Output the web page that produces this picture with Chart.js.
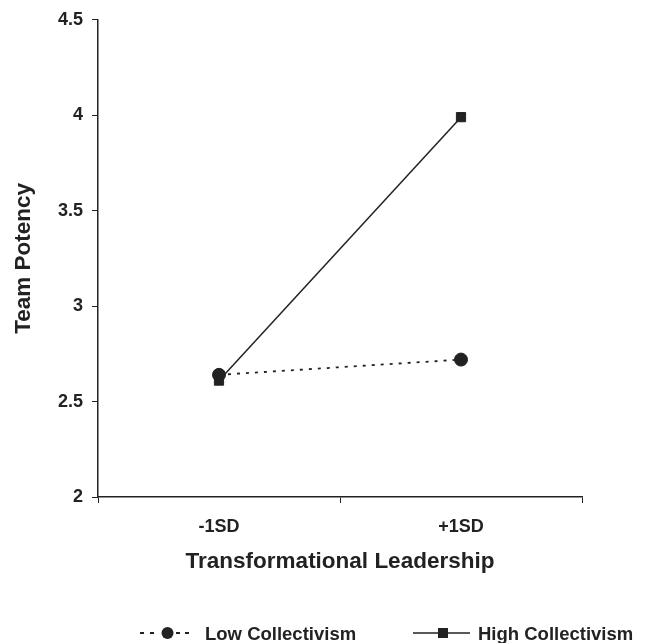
<!DOCTYPE html>
<html>
<head>
<meta charset="utf-8">
<script src="https://cdn.jsdelivr.net/npm/chart.js@4/dist/chart.umd.min.js"></script>
<style>
  body { margin: 0; background: #fff; }
  #wrap { position: relative; width: 647px; height: 643px; }
  #chart { position: absolute; left: 0; top: 0; }
  .legend { position: absolute; top: 623px; height: 20px; line-height: 20px; font: bold 18.5px "Liberation Sans", Arial, sans-serif; color: #222; white-space: nowrap; }
  .legend svg { position: absolute; top: 0; }
  .legend span { position: absolute; top: 0; }
</style>
</head>
<body>
<div id="wrap">
  <canvas id="chart" width="647" height="643"></canvas>
  <div class="legend" style="left:140px">
    <svg width="52" height="20">
      <line x1="0" y1="10" x2="4" y2="10" stroke="#222" stroke-width="2"/>
      <line x1="10" y1="10" x2="14" y2="10" stroke="#222" stroke-width="2"/>
      <circle cx="27.5" cy="10" r="6" fill="#222"/>
      <line x1="36" y1="10" x2="40" y2="10" stroke="#222" stroke-width="2"/>
      <line x1="45" y1="10" x2="49" y2="10" stroke="#222" stroke-width="2"/>
    </svg>
    <span style="left:65px">Low Collectivism</span>
  </div>
  <div class="legend" style="left:413px">
    <svg width="60" height="20">
      <line x1="0" y1="10" x2="57" y2="10" stroke="#222" stroke-width="1.5"/>
      <rect x="25" y="5" width="10" height="10" fill="#222"/>
    </svg>
    <span style="left:65px">High Collectivism</span>
  </div>
</div>
<script>
const categories = ['-1SD', '+1SD'];
const lowCollectivism = [2.64, 2.72];
const highCollectivism = [2.61, 3.99];
const yTicks = [2, 2.5, 3, 3.5, 4, 4.5];

const ink = '#222';
const tickFont = { family: 'Liberation Sans', size: 18, weight: 'bold' };
const titleFont = { family: 'Liberation Sans', size: 22.5, weight: 'bold' };

new Chart(document.getElementById('chart'), {
  type: 'line',
  data: {
    labels: categories,
    datasets: [
      {
        label: 'Low Collectivism',
        data: lowCollectivism,
        borderColor: ink,
        backgroundColor: ink,
        borderWidth: 1.8,
        borderDash: [3, 6],
        pointStyle: 'circle',
        pointRadius: 6.5,
        pointBorderWidth: 1,
        tension: 0,
      },
      {
        label: 'High Collectivism',
        data: highCollectivism,
        borderColor: ink,
        backgroundColor: ink,
        borderWidth: 1.5,
        pointStyle: 'rect',
        pointRadius: 6.5,
        pointBorderWidth: 1,
        tension: 0,
      },
    ],
  },
  options: {
    responsive: false,
    animation: false,
    layout: { padding: { top: 16, right: 65, bottom: 68, left: 10 } },
    plugins: { legend: { display: false }, tooltip: { enabled: false } },
    scales: {
      x: {
        offset: true,
        grid: { offset: true, drawOnChartArea: false, tickLength: 6, color: ink },
        border: { color: ink, width: 1.5 },
        ticks: { color: ink, font: tickFont, padding: 13 },
        title: { display: true, text: 'Transformational Leadership', color: ink, font: titleFont, padding: { top: 0, bottom: 0 } },
        afterFit: s => { s.height = 78; },
      },
      y: {
        min: 2,
        max: 4.5,
        afterBuildTicks: s => { s.ticks = yTicks.map(v => ({ value: v })); },
        grid: { drawOnChartArea: false, tickLength: 6, color: ink },
        border: { color: ink, width: 1.5 },
        ticks: { color: ink, font: tickFont, padding: 9, callback: v => String(v) },
        title: { display: true, text: 'Team Potency', color: ink, font: titleFont, padding: { top: 0, bottom: 0 } },
        afterFit: s => { s.width = 88; },
      },
    },
  },
});
</script>
</body>
</html>
